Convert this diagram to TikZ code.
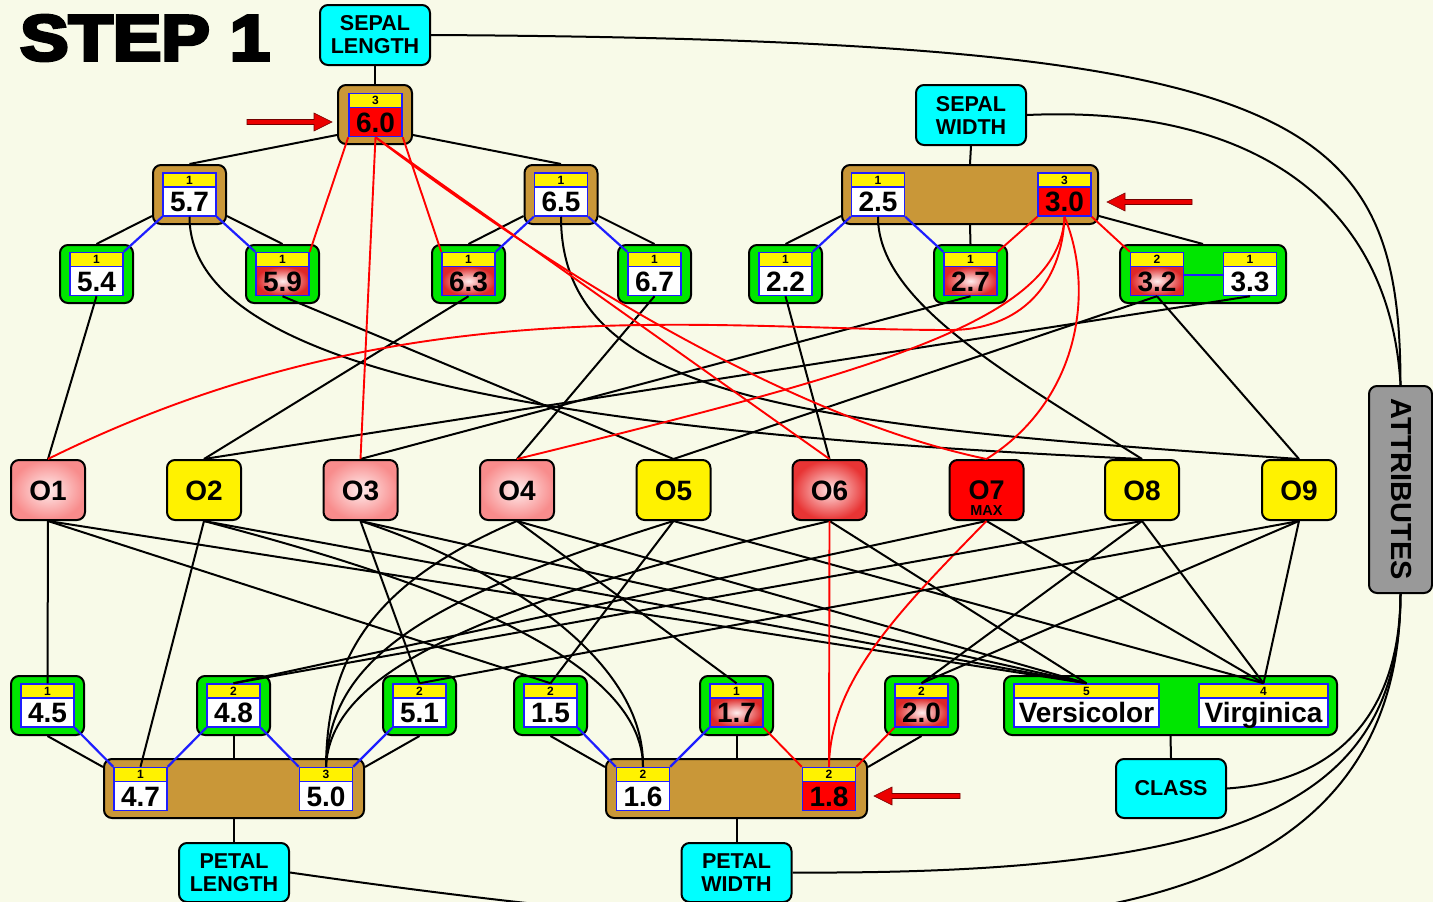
\documentclass[tikz,border=0pt]{standalone}
\usepackage{fontspec}
\usepackage{graphicx}
\setmainfont{Liberation Sans}
\newfontfamily\titlefont{Liberation Sans Bold}[FakeBold=5]

\definecolor{bgC}{RGB}{248,250,232}
\definecolor{brownC}{RGB}{201,151,56}
\definecolor{greenC}{RGB}{0,230,0}
\definecolor{cyanC}{RGB}{0,255,255}
\definecolor{blueC}{RGB}{30,30,255}
\definecolor{pinkC}{RGB}{255,236,236}
\definecolor{pinkE}{RGB}{248,140,140}
\definecolor{deepC}{RGB}{255,225,225}
\definecolor{deepE}{RGB}{232,52,52}
\definecolor{hotC}{RGB}{255,238,238}
\definecolor{hotE}{RGB}{222,40,40}
\definecolor{attrC}{RGB}{153,153,153}
\definecolor{arrowC}{RGB}{235,0,0}

\newcommand\bsz[1]{\fontsize{#1}{#1}\selectfont\bfseries}

\tikzset{
  box/.style={rounded corners=8pt, draw=black, line width=2pt, inner sep=0pt},
  brownbox/.style={box, fill=brownC},
  greenbox/.style={box, fill=greenC},
  sbox/.style={minimum width=73pt, minimum height=58pt},
  tag/.style={box, fill=cyanC, align=center, font=\fontsize{21.5}{23}\selectfont\bfseries,
    minimum width=110pt, minimum height=60pt},
  obj/.style={box, minimum width=74pt, minimum height=60pt, font=\bsz{28},
    text height=20pt, text depth=0pt},
  pinkobj/.style={shading=radial, inner color=pinkC, outer color=pinkE},
  deepobj/.style={shading=radial, inner color=deepC, outer color=deepE},
  hot/.style={shading=radial, inner color=hotC, outer color=hotE},
  cnt/.style={draw=blueC, line width=1.5pt, fill=yellow, minimum height=14pt, inner sep=0pt,
    font=\bsz{12}, text height=8.6pt, text depth=0pt},
  val/.style={draw=blueC, line width=1.5pt, fill=white, minimum height=29pt, inner sep=0pt,
    font=\bsz{28}, text height=20pt, text depth=0pt},
  ln/.style={draw=black, line width=2pt},
  bl/.style={draw=blueC, line width=2.2pt},
  rl/.style={draw=red, line width=1.9pt},
  pointer/.style={fill=arrowC, draw=red!45!black, line width=0.6pt},
}

% value cell: yellow count strip above a value field
% #1 name, #2 x, #3 y (cell centre), #4 count, #5 value, #6 field style, #7 width
\newcommand\vcell[7]{%
  \node[cnt, minimum width=#7] (#1c) at (#2,#3-14.5) {#4};
  \node[val, minimum width=#7, #6] (#1) at (#2,#3+7) {#5};}

\begin{document}
\begin{tikzpicture}[x=1pt,y=-1pt]
\useasboundingbox (0,0) rectangle (1433,902);
\clip (0,0) rectangle (1433,902);
\fill[bgC] (0,0) rectangle (1433,902);

% title
\node[anchor=north west, inner sep=0pt] (title) at (20,15)
  {\resizebox{250pt}{45pt}{\titlefont STEP 1}};

% attribute labels
\node[tag] (sl) at (375,35) {SEPAL\\LENGTH};
\node[tag] (sw) at (971,115) {SEPAL\\WIDTH};
\node[tag, minimum height=59pt] (pl) at (234,872.5) {PETAL\\LENGTH};
\node[tag, minimum height=59pt] (pw) at (736.5,872.5) {PETAL\\WIDTH};
\node[tag, minimum height=59pt] (cl) at (1171,788.5) {CLASS};

% sepal length tree
\node[brownbox, minimum width=74pt, minimum height=59pt] (b60) at (375,114.5) {};
\node[brownbox, sbox, minimum height=59pt] (b57) at (189.5,194.5) {};
\node[brownbox, sbox, minimum height=59pt] (b65) at (561,194.5) {};
\node[greenbox, sbox] (b54) at (96.5,274) {};
\node[greenbox, sbox] (b59) at (282.5,274) {};
\node[greenbox, sbox] (b63) at (468.5,274) {};
\node[greenbox, sbox] (b67) at (654.5,274) {};

% sepal width tree
\node[brownbox, minimum width=256pt, minimum height=59pt] (bsw) at (970,194.5) {};
\node[greenbox, sbox] (b22) at (785.5,274) {};
\node[greenbox, sbox] (b27) at (970.5,274) {};
\node[greenbox, minimum width=166pt, minimum height=58pt] (b3233) at (1203,274) {};

% petal length, petal width and class groups
\node[greenbox, sbox, minimum height=59pt] (b45) at (47.5,705.5) {};
\node[greenbox, sbox, minimum height=59pt] (b48) at (233.5,705.5) {};
\node[greenbox, sbox, minimum height=59pt] (b51) at (419.5,705.5) {};
\node[greenbox, sbox, minimum height=59pt] (b15) at (550.5,705.5) {};
\node[greenbox, sbox, minimum height=59pt] (b17) at (736.5,705.5) {};
\node[greenbox, sbox, minimum height=59pt] (b20) at (921.5,705.5) {};
\node[greenbox, minimum width=333pt, minimum height=59pt] (bcl) at (1170.5,705.5) {};
\node[brownbox, minimum width=260pt, minimum height=59pt] (bpl) at (234,788.5) {};
\node[brownbox, minimum width=261pt, minimum height=59pt] (bpw) at (736.5,788.5) {};

% value cells
\vcell{v60}{375.5}{115}{3}{6.0}{fill=red}{53pt}
\vcell{v57}{189.5}{194.5}{1}{5.7}{}{53pt}
\vcell{v65}{561}{194.5}{1}{6.5}{}{53pt}
\vcell{v25}{878}{194.5}{1}{2.5}{}{53pt}
\vcell{v30}{1064.5}{194.5}{3}{3.0}{fill=red}{53pt}
\vcell{v54}{96.5}{274}{1}{5.4}{}{53pt}
\vcell{v59}{282.5}{274}{1}{5.9}{hot}{53pt}
\vcell{v63}{468.5}{274}{1}{6.3}{hot}{53pt}
\vcell{v67}{654.5}{274}{1}{6.7}{}{53pt}
\vcell{v22}{785.5}{274}{1}{2.2}{}{53pt}
\vcell{v27}{970.5}{274}{1}{2.7}{hot}{53pt}
\vcell{v32}{1157}{274}{2}{3.2}{hot}{53pt}
\vcell{v33}{1250}{274}{1}{3.3}{}{53pt}
\vcell{v45}{47.5}{705.5}{1}{4.5}{}{53pt}
\vcell{v48}{233.5}{705.5}{2}{4.8}{}{53pt}
\vcell{v51}{419.5}{705.5}{2}{5.1}{}{53pt}
\vcell{v15}{550.5}{705.5}{2}{1.5}{}{53pt}
\vcell{v17}{736.5}{705.5}{1}{1.7}{hot}{53pt}
\vcell{v20}{921.5}{705.5}{2}{2.0}{hot}{53pt}
\vcell{vvec}{1086.5}{705.5}{5}{Versicolor}{}{145pt}
\vcell{vvir}{1263.5}{705.5}{4}{Virginica}{}{129pt}
\vcell{v47}{140.5}{789}{1}{4.7}{}{53pt}
\vcell{v50}{326}{789}{3}{5.0}{}{53pt}
\vcell{v16}{643}{789}{2}{1.6}{}{53pt}
\vcell{v18}{829}{789}{2}{1.8}{fill=red}{53pt}

% objects
\node[obj, pinkobj] (o1) at (48,490) {O1};
\node[obj, fill=yellow] (o2) at (204,490) {O2};
\node[obj, pinkobj] (o3) at (360.5,490) {O3};
\node[obj, pinkobj] (o4) at (517,490) {O4};
\node[obj, fill=yellow] (o5) at (673.5,490) {O5};
\node[obj, deepobj] (o6) at (829.5,490) {O6};
\node[obj, fill=red] (o7) at (986.5,490) {};
\node[font=\bsz{27}, inner sep=0pt, text height=19pt, text depth=0pt] (o7t) at (986.5,489.5) {O7};
\node[font=\bsz{14.5}, inner sep=0pt, text height=10.3pt, text depth=0pt] (o7m) at (986.5,510.5) {MAX};
\node[obj, fill=yellow] (o8) at (1142,490) {O8};
\node[obj, fill=yellow] (o9) at (1299,490) {O9};

% attributes bar
\node[box, fill=attrC, minimum width=63pt, minimum height=207pt] (att) at (1400.5,489.5) {};
\node[rotate=-90, font=\bsz{29}, inner sep=0pt] (attt) at (1401.5,489.5) {ATTRIBUTES};

% selection pointers
\filldraw[pointer] (247,119.5) -- (314,119.5) -- (314,113) -- (332,122) -- (314,131)
  -- (314,124.5) -- (247,124.5) -- cycle;
\filldraw[pointer] (1192,199.5) -- (1125,199.5) -- (1125,193) -- (1107,202) -- (1125,211)
  -- (1125,204.5) -- (1192,204.5) -- cycle;
\filldraw[pointer] (960,793.5) -- (892,793.5) -- (892,787) -- (874,796) -- (892,805)
  -- (892,798.5) -- (960,798.5) -- cycle;

% tree edges: sepal length
\draw[ln] (sl.south) -- (b60.north);
\draw[ln] ([yshift=10pt]b60.south west) -- (b57.north);
\draw[ln] ([yshift=10pt]b60.south east) -- (b65.north);
\draw[ln] ([yshift=9pt]b57.south west) -- (b54.north);
\draw[ln] ([yshift=9pt]b57.south east) -- (b59.north);
\draw[ln] ([yshift=9pt]b65.south west) -- (b63.north);
\draw[ln] ([yshift=9pt]b65.south east) -- (b67.north);
\draw[bl] (v57.south west) -- (v54c.north east);
\draw[bl] (v57.south east) -- (v59c.north west);
\draw[bl] (v65.south west) -- (v63c.north east);
\draw[bl] (v65.south east) -- (v67c.north west);
\draw[rl] (v60.south west) -- (v59c.north east);
\draw[rl] (v60.south east) -- (v63c.north west);

% tree edges: sepal width
\draw[ln] (sw.south) -- (bsw.north);
\draw[ln] ([yshift=9pt]bsw.south west) -- (b22.north);
\draw[ln] (bsw.south) -- (b27.north);
\draw[ln] ([yshift=9pt]bsw.south east) -- (b3233.north);
\draw[bl] (v25.south west) -- (v22c.north east);
\draw[bl] (v25.south east) -- (v27c.north west);
\draw[bl] ([yshift=6pt]v32.east) -- ([yshift=6pt]v33.west);
\draw[rl] (v30.south west) -- (v27c.north east);
\draw[rl] (v30.south east) -- (v32c.north west);

% tree edges: petal length
\draw[ln] (b45.south) -- ([yshift=-9pt]bpl.north west);
\draw[ln] (b48.south) -- (b48.south |- bpl.north);
\draw[ln] (b51.south) -- ([yshift=-9pt]bpl.north east);
\draw[ln] (bpl.south) -- (pl.north);
\draw[bl] (v45.south east) -- (v47c.north west);
\draw[bl] (v48.south west) -- (v47c.north east);
\draw[bl] (v48.south east) -- (v50c.north west);
\draw[bl] (v51.south west) -- (v50c.north east);

% tree edges: petal width
\draw[ln] (b15.south) -- ([yshift=-9pt]bpw.north west);
\draw[ln] (b17.south) -- (b17.south |- bpw.north);
\draw[ln] (b20.south) -- ([yshift=-9pt]bpw.north east);
\draw[ln] (bpw.south) -- (pw.north);
\draw[bl] (v15.south east) -- (v16c.north west);
\draw[bl] (v17.south west) -- (v16c.north east);
\draw[rl] (v17.south east) -- (v18c.north west);
\draw[rl] (v20.south west) -- (v18c.north east);

% class
\draw[ln] (bcl.south) -- (cl.north);

% objects to sepal values
\draw[ln] (v54.south) -- (o1.north);
\draw[ln] (v59.south) -- (o5.north);
\draw[ln] (v63.south) -- (o2.north);
\draw[ln] (v67.south) -- (o4.north);
\draw[ln] (v57.south) .. controls (190,360) and (500,430) .. (o8.north);
\draw[ln] (v65.south) .. controls (561,400) and (800,425) .. (o9.north);
\draw[ln] (v22.south) -- (o6.north);
\draw[ln] (v27.south) -- (o3.north);
\draw[ln] (v32.south) -- (o5.north);
\draw[ln] (v32.south) -- (o9.north);
\draw[ln] (v33.south) -- (o2.north);
\draw[ln] (v25.south) .. controls (878,300) and (1000,370) .. (o8.north);
\draw[rl] (v60.south) -- (o3.north);
\draw[rl] (v60.south) -- (o6.north);
\draw[rl] (v60.south) .. controls (570,285) and (800,420) .. (o7.north);
\draw[rl] (v30.south) .. controls (1062,285) and (1020,330) .. (950,330)
  .. controls (700,330) and (400,285) .. (o1.north);
\draw[rl] (v30.south) .. controls (1060,320) and (880,370) .. (o4.north);
\draw[rl] (v30.south) .. controls (1095,290) and (1080,400) .. (o7.north);

% objects to petal values and class
\draw[ln] (o1.south) -- (v45c.north);
\draw[ln] (o1.south) -- (v15c.north);
\draw[ln] (o1.south) -- (vvecc.north);
\draw[ln] (o2.south) -- (v47c.north);
\draw[ln] (o2.south) .. controls (350,560) and (643,640) .. (v16c.north);
\draw[ln] (o2.south) -- (vvecc.north);
\draw[ln] (o3.south) -- (v51c.north);
\draw[ln] (o3.south) .. controls (480,560) and (645,650) .. (v16c.north);
\draw[ln] (o3.south) -- (vvecc.north);
\draw[ln] (o4.south) .. controls (380,580) and (327,650) .. (v50c.north);
\draw[ln] (o4.south) -- (v17c.north);
\draw[ln] (o4.south) -- (vvecc.north);
\draw[ln] (o5.south) .. controls (420,600) and (330,660) .. (v50c.north);
\draw[ln] (o5.south) -- (v15c.north);
\draw[ln] (o5.south) -- (vvirc.north);
\draw[ln] (o6.south) .. controls (450,610) and (330,680) .. (v50c.north);
\draw[ln] (o6.south) -- (vvecc.north);
\draw[rl] (o6.south) -- (v18c.north);
\draw[ln] (o7.south) -- (v48c.north);
\draw[ln] (o7.south) -- (vvirc.north);
\draw[rl] (o7.south) .. controls (900,610) and (830,680) .. (v18c.north);
\draw[ln] (o8.south) -- (v48c.north);
\draw[ln] (o8.south) -- (v20c.north);
\draw[ln] (o8.south) -- (vvirc.north);
\draw[ln] (o9.south) -- (v51c.north);
\draw[ln] (o9.south) -- (v20c.north);
\draw[ln] (o9.south) -- (vvirc.north);

% attribute labels to the attributes bar
\draw[ln] (sl.east) .. controls (1300,40) and (1400,110) .. (att.north);
\draw[ln] (sw.east) .. controls (1250,105) and (1390,200) .. (att.north);
\draw[ln] (cl.east) .. controls (1350,780) and (1400,700) .. (att.south);
\draw[ln] (pw.east) .. controls (1250,875) and (1400,800) .. (att.south);
\draw[ln] (pl.east) .. controls (900,960) and (1400,980) .. (att.south);
\end{tikzpicture}
\end{document}
